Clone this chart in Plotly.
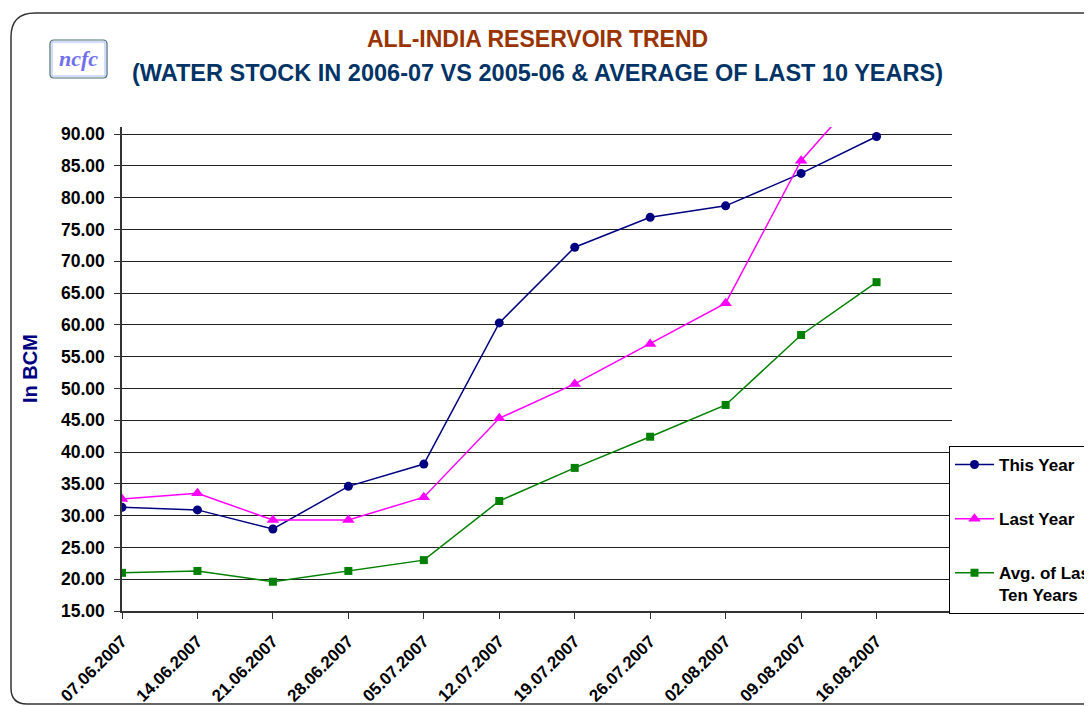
import plotly.graph_objects as go

dates = ["07.06.2007", "14.06.2007", "21.06.2007", "28.06.2007", "05.07.2007",
         "12.07.2007", "19.07.2007", "26.07.2007", "02.08.2007", "09.08.2007", "16.08.2007"]
this_year = [31.3, 30.9, 27.9, 34.6, 38.1, 60.3, 72.2, 76.9, 78.7, 83.8, 89.6]
last_year = [32.6, 33.5, 29.3, 29.3, 32.9, 45.3, 50.7, 57.0, 63.4, 85.8, 99.2]
avg_ten = [21.0, 21.3, 19.6, 21.3, 23.0, 32.3, 37.5, 42.4, 47.4, 58.4, 66.7]
y_ticks = [15, 20, 25, 30, 35, 40, 45, 50, 55, 60, 65, 70, 75, 80, 85, 90]

# the page places the figure 8px from the top-left corner (default body margin)
OFF = 8
PAGE_W, PAGE_H = 1092, 706
W, H = PAGE_W - OFF, PAGE_H - OFF
PL, PR, PT, PB = 122, 952, 127, 611          # plot area in page pixels
ML, MR, MT, MB = PL - OFF, PAGE_W - PR, PT - OFF, PAGE_H - PB
PW, PH = PR - PL, PB - PT

def px(x):
    return (x - PL) / PW

def py(y):
    return (PB - y) / PH

FONT = "Liberation Sans, Arial, Helvetica, sans-serif"

fig = go.Figure()
fig.add_trace(go.Scatter(x=dates, y=this_year, name="This Year", mode="lines+markers",
                         line=dict(color="#000080", width=1.5),
                         marker=dict(symbol="circle", size=9, color="#000080"),
                         legendgroup="a"))
fig.add_trace(go.Scatter(x=dates, y=last_year, name="Last Year", mode="lines+markers",
                         line=dict(color="#FF00FF", width=1.5),
                         marker=dict(symbol="triangle-up", size=11, color="#FF00FF"),
                         legendgroup="b"))
fig.add_trace(go.Scatter(x=dates, y=avg_ten, name="Avg. of Last<br>Ten Years", mode="lines+markers",
                         line=dict(color="#008000", width=1.5),
                         marker=dict(symbol="square", size=8, color="#008000"),
                         legendgroup="c"))

def rounded(x0, y0, x1, y1, r_top, r_bot):
    return (f"M {px(x0+r_top)},{py(y0)} L {px(x1-r_top)},{py(y0)} Q {px(x1)},{py(y0)} {px(x1)},{py(y0+r_top)} "
            f"L {px(x1)},{py(y1-r_bot)} Q {px(x1)},{py(y1)} {px(x1-r_bot)},{py(y1)} "
            f"L {px(x0+r_bot)},{py(y1)} Q {px(x0)},{py(y1)} {px(x0)},{py(y1-r_bot)} "
            f"L {px(x0)},{py(y0+r_top)} Q {px(x0)},{py(y0)} {px(x0+r_top)},{py(y0)} Z")

shapes = [
    dict(type="path", xref="paper", yref="paper", path=rounded(11, 13, 1110, 704, 24, 16),
         line=dict(color="#333333", width=1.5), layer="below"),
    dict(type="path", xref="paper", yref="paper", path=rounded(50, 40, 107, 78, 4, 4),
         line=dict(color="#4a6f6f", width=1.2), fillcolor="white"),
    dict(type="rect", xref="paper", yref="paper",
         x0=px(52), x1=px(105), y0=py(42), y1=py(76),
         line=dict(color="#a8b8ff", width=1)),
]

annotations = [
    dict(text="<i>ncfc</i>", x=px(78.5), y=py(58), xref="paper", yref="paper", showarrow=False,
         xanchor="center", yanchor="middle",
         font=dict(family="Liberation Serif, Times New Roman, serif", size=22, color="#7070ee",
                   weight="bold")),
    dict(text="ALL-INDIA RESERVOIR TREND", x=px(537), y=py(39), xref="paper", yref="paper",
         showarrow=False, xanchor="center", yanchor="middle",
         font=dict(family=FONT, size=23, color="#993300", weight="bold")),
    dict(text="(WATER STOCK IN 2006-07 VS 2005-06 &amp; AVERAGE OF LAST 10 YEARS)", x=px(537), y=py(73),
         xref="paper", yref="paper", showarrow=False, xanchor="center", yanchor="middle",
         font=dict(family=FONT, size=23.5, color="#003366", weight="bold")),
    dict(text="In BCM", x=px(30), y=py(369), xref="paper", yref="paper", showarrow=False,
         xanchor="center", yanchor="middle", textangle=-90,
         font=dict(family=FONT, size=20, color="#000080", weight="bold")),
]

fig.update_layout(
    width=W, height=H,
    margin=dict(l=ML, r=MR, t=MT, b=MB, autoexpand=False),
    paper_bgcolor="white", plot_bgcolor="white",
    shapes=shapes, annotations=annotations,
    showlegend=True,
    legend=dict(x=px(949), y=py(446), xanchor="left", yanchor="top",
                bgcolor="white", bordercolor="black", borderwidth=1,
                font=dict(family=FONT, size=17, color="black", weight="bold"),
                traceorder="grouped", tracegroupgap=29, valign="top", itemwidth=39),
    xaxis=dict(type="category", range=[0, 11], showgrid=False,
               showline=True, linecolor="#333333", linewidth=1.5,
               ticks="outside", ticklen=6, tickcolor="#333333", ticklabelstandoff=6,
               tickangle=-45, tickfont=dict(family=FONT, size=17, color="black", weight="bold")),
    yaxis=dict(range=[15, 91.1], tickvals=y_ticks, ticktext=[f"{v:.2f}" for v in y_ticks],
               showgrid=True, gridcolor="#222222", gridwidth=1, zeroline=False,
               showline=True, linecolor="#333333", linewidth=1.5,
               ticks="outside", ticklen=6, tickcolor="#333333", ticklabelstandoff=6,
               tickfont=dict(family=FONT, size=17.5, color="black", weight="bold")),
)

fig.write_html("out.html")
